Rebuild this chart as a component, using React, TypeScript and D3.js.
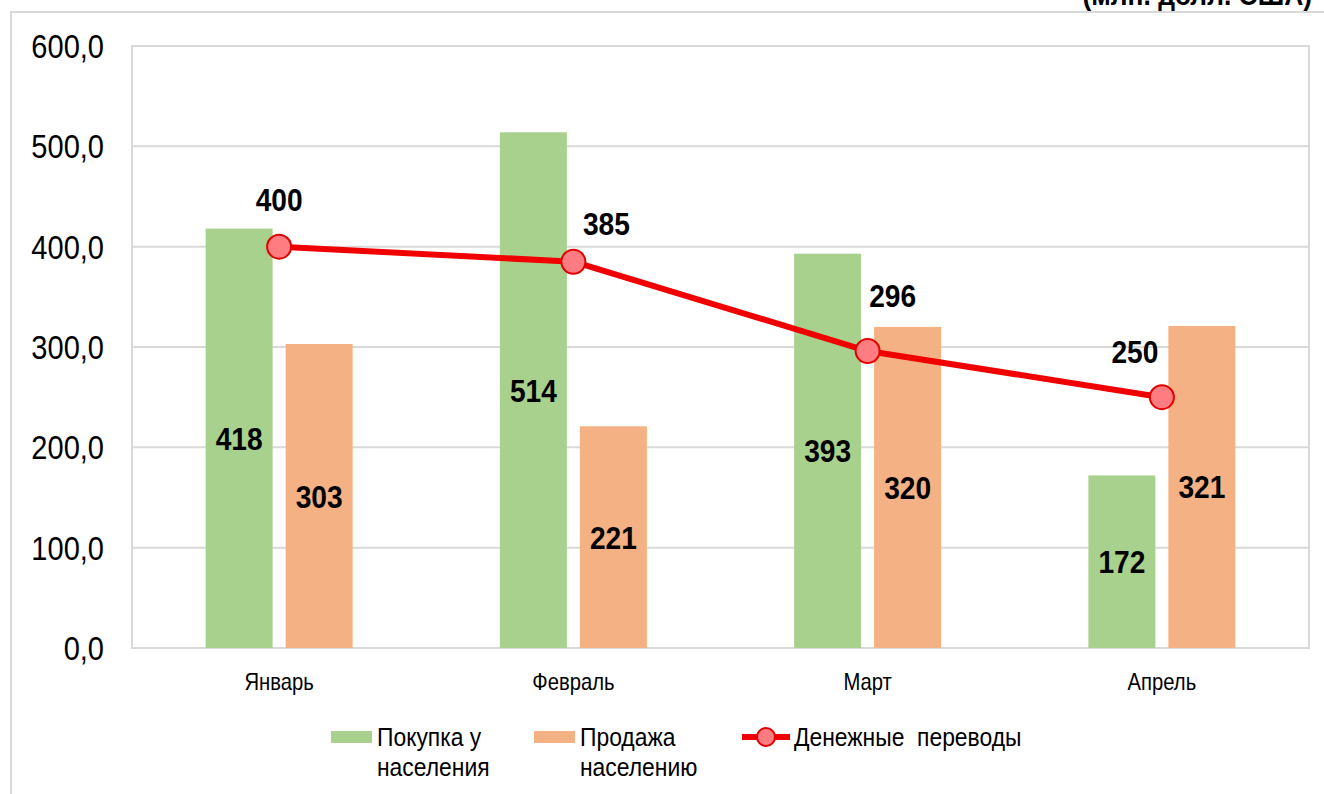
import React, { useEffect, useRef } from 'react'
import * as d3 from 'd3'

const months = ['Январь', 'Февраль', 'Март', 'Апрель']
const buyValues = [418, 514, 393, 172]
const sellValues = [303, 221, 320, 321]
const transferValues = [400, 385, 296, 250]
const yTicks = [0, 100, 200, 300, 400, 500, 600]
const seriesNames = ['Покупка у населения', 'Продажа населению', 'Денежные  переводы']

// hand placed offsets of the line labels (like in the original)
const lineLabelOffsets = [[0, -47], [33, -38], [25, -56], [-27, -46]]

const GREEN = '#A9D18E'
const ORANGE = '#F4B183'
const RED = '#F00000'
const GRID = '#D9D9D9'
const FONT = "'Liberation Sans', Arial, sans-serif"
const SQUEEZE = 0.88 // fake the narrow font

export default function App() {
    const ref = useRef<SVGSVGElement>(null)

    useEffect(() => {
        const width = 1324
        const height = 794
        const svg = d3.select(ref.current)
        svg.selectAll('*').remove()
        svg.attr('width', width).attr('height', height)
            .style('font-family', FONT)

        const at = (px: number, py: number) => `translate(${px},${py}) scale(${SQUEEZE},1)`

        const left = 132, right = 1309, top = 46, bottom = 648

        // outer frame + cut off unit caption
        svg.append('rect')
            .attr('x', 11).attr('y', 12)
            .attr('width', 1340).attr('height', 820)
            .attr('fill', 'none').attr('stroke', GRID).attr('stroke-width', 2)
        svg.append('text')
            .attr('transform', at(1312, 5))
            .attr('text-anchor', 'end')
            .attr('font-size', 30).attr('font-weight', 'bold')
            .text('(млн. долл. США)')

        const x = d3.scaleBand<string>().domain(months).range([left, right])
        const x1 = d3.scaleBand<string>().domain(['buy', 'sell'])
            .range([0, 147]).paddingInner(0.1625)
        const y = d3.scaleLinear().domain([0, 600]).range([bottom, top])

        // grid
        svg.append('g').selectAll('line')
            .data(yTicks.slice(1)).enter()
            .append('line')
            .attr('x1', left).attr('x2', right)
            .attr('y1', d => y(d)).attr('y2', d => y(d))
            .attr('stroke', GRID).attr('stroke-width', 2)
        svg.append('rect')
            .attr('x', left).attr('y', top)
            .attr('width', right - left).attr('height', bottom - top)
            .attr('fill', 'none').attr('stroke', GRID).attr('stroke-width', 2)

        // y labels
        svg.append('g').selectAll('text')
            .data(yTicks).enter()
            .append('text')
            .attr('transform', d => at(104, y(d)))
            .attr('dy', '0.36em')
            .attr('text-anchor', 'end')
            .attr('font-size', 33)
            .text(d => d3.format('.1f')(d).replace('.', ','))

        // x labels
        svg.append('g').selectAll('text')
            .data(months).enter()
            .append('text')
            .attr('transform', d => at(x(d)! + x.bandwidth() / 2, 690))
            .attr('text-anchor', 'middle')
            .attr('font-size', 23)
            .text(d => d)

        const groupStart = (m: string) => x(m)! + x.bandwidth() / 2 - 147 / 2
        const bars = [
            { key: 'buy', values: buyValues, color: GREEN },
            { key: 'sell', values: sellValues, color: ORANGE },
        ]
        bars.forEach(s => {
            const g = svg.append('g')
            g.selectAll('rect')
                .data(s.values).enter()
                .append('rect')
                .attr('x', (d, i) => groupStart(months[i]) + x1(s.key)!)
                .attr('y', d => y(d))
                .attr('width', x1.bandwidth())
                .attr('height', d => y(0) - y(d))
                .attr('fill', s.color)
            g.selectAll('text')
                .data(s.values).enter()
                .append('text')
                .attr('transform', (d, i) => at(groupStart(months[i]) + x1(s.key)! + x1.bandwidth() / 2,
                    (y(d) + y(0)) / 2))
                .attr('dy', '0.36em')
                .attr('text-anchor', 'middle')
                .attr('font-size', 32).attr('font-weight', 'bold')
                .text(d => d)
        })

        // line
        const cx = (i: number) => x(months[i])! + x.bandwidth() / 2
        const line = d3.line<number>()
            .x((d, i) => cx(i))
            .y(d => y(d))
        svg.append('path')
            .attr('d', line(transferValues))
            .attr('fill', 'none').attr('stroke', RED)
            .attr('stroke-width', 6).attr('stroke-linejoin', 'round')
        svg.append('g').selectAll('circle')
            .data(transferValues).enter()
            .append('circle')
            .attr('cx', (d, i) => cx(i)).attr('cy', d => y(d))
            .attr('r', 12)
            .attr('fill', '#FF7C80').attr('stroke', '#E00000').attr('stroke-width', 2)
        svg.append('g').selectAll('text')
            .data(transferValues).enter()
            .append('text')
            .attr('transform', (d, i) => at(cx(i) + lineLabelOffsets[i][0], y(d) + lineLabelOffsets[i][1]))
            .attr('dy', '0.36em')
            .attr('text-anchor', 'middle')
            .attr('font-size', 32).attr('font-weight', 'bold')
            .text(d => d)

        // legend
        const lg = svg.append('g').attr('font-size', 26)
        const swatches = [
            { x: 331, color: GREEN, lines: ['Покупка у', 'населения'] },
            { x: 534, color: ORANGE, lines: ['Продажа', 'населению'] },
        ]
        swatches.forEach(s => {
            lg.append('rect')
                .attr('x', s.x).attr('y', 731)
                .attr('width', 41).attr('height', 12)
                .attr('fill', s.color)
            s.lines.forEach((t, j) => {
                lg.append('text')
                    .attr('transform', at(s.x + 46, 746 + j * 30))
                    .text(t)
            })
        })
        lg.append('line')
            .attr('x1', 742).attr('x2', 790)
            .attr('y1', 737).attr('y2', 737)
            .attr('stroke', RED).attr('stroke-width', 6)
        lg.append('circle')
            .attr('cx', 766).attr('cy', 737).attr('r', 9)
            .attr('fill', '#FF7C80').attr('stroke', '#E00000').attr('stroke-width', 2)
        lg.append('text')
            .attr('transform', at(794, 746))
            .style('white-space', 'pre')
            .text(seriesNames[2])
    }, [])

    return (
        <svg ref={ref} style={{ position: 'absolute', left: 0, top: 0, background: '#fff' }} />
    )
}
